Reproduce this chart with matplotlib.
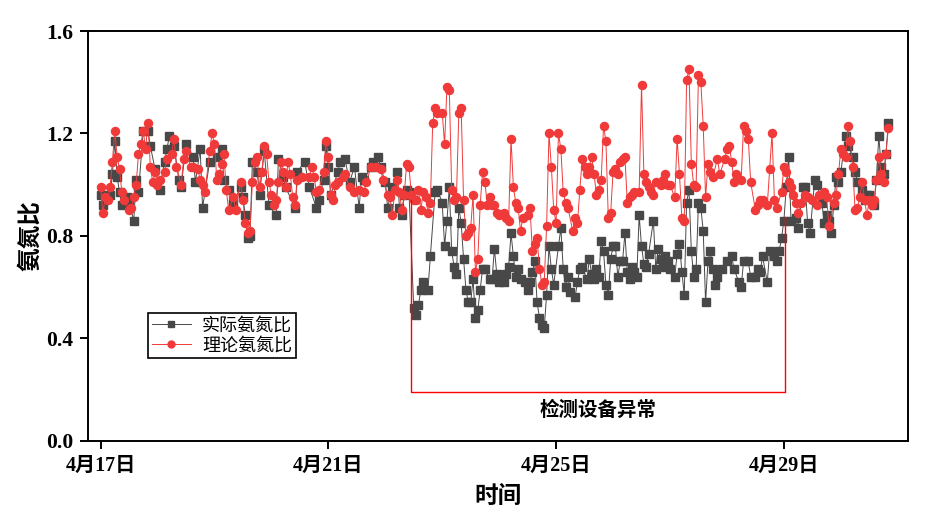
import pandas as pd
import matplotlib
matplotlib.use("Agg")
import matplotlib.pyplot as plt

plt.rcParams["font.family"] = ["Liberation Serif", "Noto Sans CJK SC"]

# hours after 4/17 00:00
red_hours = [0, 1, 2, 3, 4, 5, 6, 7, 8, 9, 10, 12, 13, 14, 15, 16, 17, 18, 19, 20,
             21, 22, 23, 24, 25, 27, 28, 30, 31, 32, 34, 35, 36, 38, 39, 41, 42, 43, 44, 46,
             47, 48, 49, 50, 51, 52, 53, 54, 56, 57, 59, 60, 61, 62, 63, 64, 65, 66, 67, 68,
             69, 70, 71, 72, 73, 74, 75, 76, 77, 78, 79, 80, 81, 82, 83, 85, 88, 89, 90, 91,
             92, 94, 95, 96, 97, 98, 99, 100, 102, 103, 105, 107, 109, 111, 112, 114, 116, 118, 119, 121,
             122, 123, 124, 125, 126, 127, 128, 129, 130, 131, 132, 133, 134, 135, 136, 137, 138, 139, 140, 141,
             142, 144, 145, 146, 147, 148, 149, 150, 151, 152, 153, 154, 155, 156, 157, 158, 159, 160, 161, 162,
             163, 164, 165, 166, 167, 168, 170, 171, 172, 173, 174, 175, 176, 177, 178, 180, 181, 182, 183, 184,
             185, 186, 187, 188, 189, 190, 191, 192, 193, 194, 195, 196, 197, 199, 200, 201, 202, 203, 204, 205,
             206, 207, 208, 209, 210, 211, 212, 213, 214, 215, 216, 217, 218, 219, 220, 221, 222, 223, 224, 225,
             227, 228, 229, 230, 231, 232, 233, 234, 236, 237, 238, 239, 240, 242, 243, 244, 245, 246, 247, 248,
             249, 250, 251, 252, 253, 254, 255, 256, 257, 258, 260, 261, 263, 264, 265, 266, 267, 268, 270, 271,
             272, 273, 274, 276, 277, 278, 279, 281, 282, 283, 284, 285, 287, 288, 289, 290, 291, 292, 293, 294,
             295, 297, 298, 300, 302, 303, 305, 306, 307, 309, 310, 311, 312, 313, 314, 315, 316, 317, 318, 319,
             320, 321, 322, 323, 324, 325, 326, 327, 328, 329, 330, 331, 332]
red_vals = [0.99, 0.89, 0.95, 0.94, 0.99, 1.09, 1.21, 1.11, 1.06, 0.97, 0.94, 0.90, 0.91, 0.95, 1.00, 1.12, 1.16, 1.21, 1.14, 1.24,
            1.07, 1.01, 1.05, 1.00, 1.02, 1.05, 1.10, 1.12, 1.18, 1.07, 1.00, 1.10, 1.13, 1.07, 1.07, 1.06, 1.02, 1.00, 0.97, 1.13,
            1.20, 1.16, 1.02, 1.04, 1.08, 1.12, 0.98, 0.90, 0.95, 0.90, 1.01, 0.94, 0.85, 0.81, 0.82, 1.01, 1.09, 1.11, 0.99, 1.05,
            1.15, 1.12, 1.01, 0.96, 0.92, 0.94, 1.01, 1.09, 1.05, 0.99, 1.09, 1.04, 0.95, 0.92, 1.02, 1.03, 1.03, 1.07, 1.03, 0.97,
            0.98, 1.05, 1.17, 1.11, 0.96, 0.94, 1.00, 1.01, 1.03, 1.04, 0.99, 0.97, 0.98, 0.97, 1.01, 1.07, 1.07, 1.06, 1.02, 0.96,
            0.95, 0.88, 0.98, 1.02, 0.97, 0.90, 0.96, 1.08, 1.07, 0.96, 0.94, 0.94, 0.98, 0.90, 0.97, 0.95, 0.89, 0.93, 1.24, 1.30,
            1.28, 1.28, 1.16, 1.38, 1.37, 0.98, 0.94, 0.95, 1.28, 1.30, 0.94, 0.80, 0.81, 0.83, 0.96, 0.66, 0.71, 0.92, 1.05, 1.01,
            0.92, 0.95, 0.92, 0.92, 0.89, 0.88, 0.89, 0.87, 0.86, 1.18, 0.99, 0.93, 0.91, 0.82, 0.87, 0.88, 0.91, 0.74, 0.77, 0.79,
            0.67, 0.61, 0.62, 0.84, 1.20, 1.07, 0.90, 0.85, 1.20, 1.14, 0.97, 0.93, 0.91, 0.82, 0.87, 0.85, 0.98, 1.10, 1.07, 1.04,
            1.07, 1.11, 1.04, 0.96, 0.98, 1.02, 1.23, 1.17, 0.87, 0.89, 1.05, 1.06, 1.04, 1.09, 1.10, 1.11, 0.93, 0.95, 0.96, 0.97,
            0.97, 1.39, 1.04, 1.01, 0.99, 0.97, 0.96, 1.01, 1.00, 1.02, 1.04, 1.00, 1.00, 0.95, 1.18, 1.04, 0.87, 0.86, 1.41, 1.45,
            1.08, 1.00, 0.99, 1.43, 1.40, 1.23, 0.95, 1.08, 1.05, 1.03, 1.10, 1.04, 1.10, 1.14, 1.15, 1.09, 1.01, 1.04, 1.02, 1.23,
            1.21, 1.18, 1.01, 0.90, 0.92, 0.94, 0.94, 0.92, 1.06, 1.20, 0.94, 0.91, 0.97, 1.07, 1.05, 1.01, 0.99, 0.96, 0.93, 0.89,
            0.93, 0.96, 0.95, 0.94, 0.92, 0.96, 0.97, 0.95, 0.84, 0.93, 0.96, 1.04, 1.14, 1.12, 1.11, 1.23, 1.17, 1.07, 0.90, 0.91,
            0.95, 1.01, 0.94, 0.88, 0.94, 0.92, 0.94, 1.02, 1.11, 1.04, 1.01, 1.12, 1.22]

act_hours = [0, 1, 4, 5, 6, 7, 8, 9, 11, 12, 14, 15, 16, 18, 20, 21, 23, 25, 27, 28,
             29, 31, 33, 34, 36, 39, 40, 42, 43, 46, 49, 51, 52, 54, 56, 59, 60, 61, 62, 63,
             64, 66, 67, 69, 71, 74, 75, 77, 78, 82, 83, 86, 88, 91, 92, 94, 95, 96, 97, 100,
             101, 103, 105, 107, 109, 110, 111, 114, 115, 117, 118, 120, 121, 123, 125, 126, 127, 128, 129, 130,
             132, 133, 134, 135, 136, 138, 139, 141, 142, 144, 145, 146, 147, 148, 149, 150, 151, 152, 153, 154,
             155, 156, 157, 158, 159, 160, 161, 162, 164, 165, 166, 167, 168, 170, 171, 172, 173, 174, 175, 176,
             177, 179, 180, 181, 182, 183, 184, 185, 186, 187, 188, 189, 190, 191, 193, 194, 195, 196, 197, 198,
             200, 201, 202, 203, 205, 206, 207, 208, 209, 210, 211, 212, 213, 214, 215, 216, 217, 218, 219, 220,
             221, 222, 223, 224, 225, 226, 227, 228, 229, 230, 231, 233, 234, 235, 236, 237, 238, 239, 240, 242,
             243, 244, 245, 246, 247, 248, 249, 250, 251, 252, 253, 254, 255, 256, 257, 258, 259, 260, 262, 264,
             266, 267, 269, 270, 271, 273, 274, 276, 277, 278, 279, 281, 282, 284, 285, 286, 287, 288, 289, 290,
             291, 293, 294, 296, 297, 298, 299, 301, 302, 304, 305, 306, 307, 308, 309, 310, 311, 312, 314, 315,
             317, 318, 319, 321, 322, 323, 324, 326, 327, 328, 329, 330, 331, 332]
act_vals = [0.96, 0.92, 0.96, 1.04, 1.17, 1.03, 0.97, 0.92, 0.95, 0.93, 0.86, 1.02, 0.97, 1.21, 1.21, 1.15, 1.06, 0.98, 1.09, 1.14,
            1.19, 1.15, 1.02, 0.99, 1.16, 1.11, 1.01, 1.14, 0.91, 1.09, 1.11, 1.14, 1.02, 0.98, 0.93, 0.99, 0.95, 0.88, 0.79, 0.80,
            1.09, 1.05, 0.96, 1.13, 0.92, 0.88, 1.10, 1.03, 0.99, 0.91, 1.05, 1.09, 0.99, 0.91, 0.94, 1.02, 1.15, 1.07, 0.96, 1.05,
            1.09, 1.10, 1.01, 1.07, 0.91, 1.03, 1.02, 1.07, 1.09, 1.11, 1.07, 1.01, 0.91, 0.99, 1.05, 0.91, 0.88, 0.96, 0.98, 0.97,
            0.52, 0.49, 0.53, 0.59, 0.62, 0.59, 0.72, 0.97, 0.98, 0.93, 0.76, 0.86, 0.99, 0.74, 0.68, 0.65, 0.91, 0.85, 0.71, 0.59,
            0.54, 0.54, 0.63, 0.48, 0.51, 0.59, 0.67, 0.67, 0.63, 0.63, 0.75, 0.65, 0.62, 0.62, 0.65, 0.68, 0.81, 0.72, 0.64, 0.67,
            0.63, 0.62, 0.59, 0.62, 0.66, 0.70, 0.54, 0.48, 0.45, 0.44, 0.57, 0.76, 0.67, 0.61, 0.76, 0.83, 0.67, 0.60, 0.64, 0.58,
            0.56, 0.62, 0.67, 0.68, 0.63, 0.71, 0.65, 0.63, 0.67, 0.64, 0.78, 0.74, 0.61, 0.57, 0.71, 0.76, 0.76, 0.64, 0.70, 0.70,
            0.81, 0.66, 0.63, 0.68, 0.66, 0.64, 0.88, 0.76, 0.69, 0.68, 0.73, 0.86, 0.67, 0.75, 0.71, 0.68, 0.72, 0.70, 0.67, 0.64,
            0.73, 0.77, 0.66, 0.57, 0.93, 0.98, 0.74, 0.64, 0.67, 0.93, 0.91, 0.82, 0.54, 0.70, 0.74, 0.67, 0.61, 0.64, 0.67, 0.70,
            0.72, 0.67, 0.62, 0.60, 0.70, 0.70, 0.64, 0.64, 0.67, 0.66, 0.72, 0.62, 0.74, 0.72, 0.70, 0.74, 0.79, 0.86, 0.99, 1.11,
            0.86, 0.87, 0.83, 0.99, 0.99, 0.85, 0.81, 1.02, 1.00, 0.93, 0.85, 0.88, 0.86, 0.81, 0.92, 1.03, 1.01, 1.05, 1.19, 1.15,
            1.11, 1.05, 1.01, 0.98, 0.94, 0.96, 0.96, 0.92, 1.02, 1.19, 1.07, 1.04, 1.12, 1.24]

tick_days = [0, 4, 8, 12]
tick_labels = ["4月17日", "4月21日", "4月25日", "4月29日"]
anomaly_hours = (131, 288.5)

t0 = pd.Timestamp("2021-04-17")
red_t = t0 + pd.to_timedelta(red_hours, unit="h")
act_t = t0 + pd.to_timedelta(act_hours, unit="h")

fig = plt.figure(figsize=(9.26, 5.13), dpi=100)
ax = fig.add_axes([0.0954, 0.1409, 0.8852, 0.7986])

ax.plot(act_t, act_vals, color="#484848", marker="s", markersize=5.2, linewidth=0.7, label="实际氨氮比")
ax.plot(red_t, red_vals, color="#f03a3a", marker="o", markersize=5.8, linewidth=0.7, label="理论氨氮比")

# bracket marking the sensor fault period
xl = t0 + pd.Timedelta(hours=anomaly_hours[0])
xr = t0 + pd.Timedelta(hours=anomaly_hours[1])
ax.plot([xl, xl, xr, xr], [0.94, 0.19, 0.19, 0.875], color="red", linewidth=1)
ax.text(t0 + pd.Timedelta(hours=209.5), 0.12, "检测设备异常", ha="center", va="center",
        fontsize=14, fontweight="bold", family=["Noto Sans CJK SC"])

ax.set_xlim(t0 - pd.Timedelta(days=0.214), t0 + pd.Timedelta(days=14.18))
ax.set_ylim(0, 1.6)
ax.set_yticks([0.0, 0.4, 0.8, 1.2, 1.6])
ax.set_yticklabels(["0.0", "0.4", "0.8", "1.2", "1.6"], fontsize=15.5, fontweight="bold")
ax.set_xticks([t0 + pd.Timedelta(days=d) for d in tick_days])
ax.set_xticklabels(tick_labels, fontsize=14.5, fontweight="bold")
ax.tick_params(direction="out", length=6, width=1.4, pad=5)
for s in ax.spines.values():
    s.set_linewidth(1.4)

ax.set_xlabel("时间", fontsize=17, fontweight="bold", labelpad=7)
ax.set_ylabel("氨氮比", fontsize=17, fontweight="bold", labelpad=3)

leg = ax.legend(loc="upper left", bbox_to_anchor=(0.0728, 0.3117), borderaxespad=0,
                fancybox=False, edgecolor="black", framealpha=1,
                prop={"family": ["Noto Sans CJK SC"], "size": 13}, handlelength=2.2,
                borderpad=0.2, labelspacing=0.1, handletextpad=0.6)
leg.get_frame().set_linewidth(1.2)
for h in leg.legend_handles:
    h.set_markersize(5)

fig.savefig("out.png", dpi=100)
